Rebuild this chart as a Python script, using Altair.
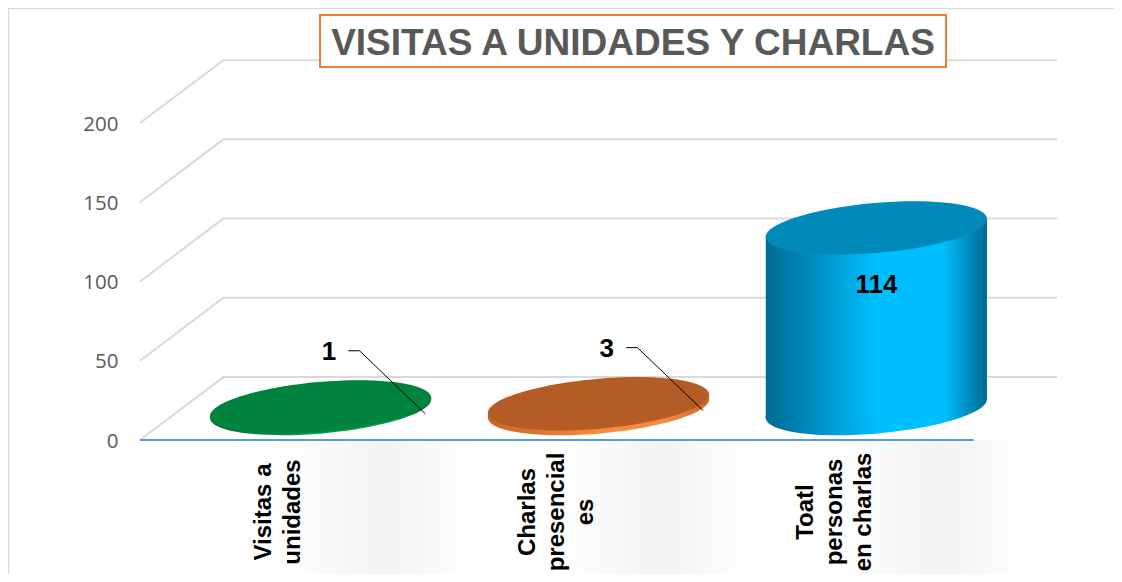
import math
import altair as alt
import pandas as pd

# ---------------- data ----------------
categories = ["Visitas a unidades", "Charlas presenciales", "Toatl personas en charlas"]
label_lines = ["Visitas a\nunidades", "Charlas\npresencial\nes", "Toatl\npersonas\nen charlas"]
values = [1, 3, 114]
y_ticks = [0, 50, 100, 150, 200]
title_text = "VISITAS A UNIDADES Y CHARLAS"

top_colors = ["#00843D", "#B45C25", "#0189BA"]
side_dark = ["#006E33", "#C9662A", "#006A92"]
side_light = ["#00A04C", "#F58B3D", "#00BFFF"]
inside_label = [False, False, True]

# ---------------- geometry (3D projection) ----------------
W, H = 917, 400
X_MAX, Y_MAX = 3.3, 252.4
PXX, PXY = W / X_MAX, H / Y_MAX
DX, DY = 0.3, 39.7          # depth of the 3D box in data units
A_PX, B_PX, ANG = 111, 25, 5
th = math.radians(ANG)
half_w_px = math.sqrt(A_PX ** 2 * math.cos(th) ** 2 + B_PX ** 2 * math.sin(th) ** 2)
tilt_px = math.sin(th) * math.cos(th) * (A_PX ** 2 - B_PX ** 2) / half_w_px
HALF_W = half_w_px / PXX
TILT = tilt_px / PXY
ratio = B_PX / A_PX
ELLIPSE = f"M-1,0A1,{ratio:.4f} 0 1,0 1,0A1,{ratio:.4f} 0 1,0 -1,0Z"
SIZE = (2 * A_PX) ** 2
LINE_H = 29

xs = alt.Scale(domain=[0, X_MAX], nice=False, zero=False)
ys = alt.Scale(domain=[0, Y_MAX], nice=False)
yaxis = alt.Axis(values=y_ticks, title=None, domain=False, ticks=False, grid=False,
                 labelPadding=22, labelFontSize=20.5, labelColor="#595959",
                 labelFont="Open Sans", labelOffset=1)


def X(f):
    return alt.X(f"{f}:Q", scale=xs, axis=None)


def Y(f):
    return alt.Y(f"{f}:Q", scale=ys, axis=yaxis)


layers = []

# soft shadows below the floor
for i, v in enumerate(values):
    xc = i + 0.5 + DX / 2
    sh = alt.Gradient(
        gradient="linear", x1=0, x2=1, y1=0, y2=0,
        stops=[alt.GradientStop(offset=0, color="#FFFFFF"),
               alt.GradientStop(offset=0.55, color="#F3F3F3"),
               alt.GradientStop(offset=1, color="#FFFFFF")])
    layers.append(
        alt.Chart(pd.DataFrame({"x": [xc - 0.15], "x2": [xc + 0.55], "y": [0]})).mark_rect(fill=sh).encode(
            x=X("x"), x2="x2:Q", y=Y("y"), y2=alt.value(537))
    )

# back wall gridlines with side diagonals
grid_rows = []
for v in y_ticks:
    grid_rows += [
        {"tick": v, "o": 0, "x": 0, "y": v},
        {"tick": v, "o": 1, "x": DX, "y": v + DY},
        {"tick": v, "o": 2, "x": 3 + DX, "y": v + DY},
    ]
layers.append(
    alt.Chart(pd.DataFrame(grid_rows)).mark_line(color="#D9D9D9", strokeWidth=2).encode(
        x=X("x"), y=Y("y"), detail="tick:N", order="o:Q")
)

# front floor line
layers.append(
    alt.Chart(pd.DataFrame({"x": [0, 3], "y": [0, 0]})).mark_line(color="#5B9BD5", strokeWidth=2).encode(
        x=X("x"), y=Y("y"))
)

# cylinders
for i, v in enumerate(values):
    xc = i + 0.5 + DX / 2
    yb = DY / 2
    yt = v + DY / 2
    grad = alt.Gradient(
        gradient="linear", x1=0, x2=1, y1=0, y2=0,
        stops=[alt.GradientStop(offset=0, color=side_dark[i]),
               alt.GradientStop(offset=0.5, color=side_light[i]),
               alt.GradientStop(offset=0.8, color=side_light[i]),
               alt.GradientStop(offset=1, color=side_dark[i])])
    bottom = pd.DataFrame({"x": [xc], "y": [yb]})
    layers.append(
        alt.Chart(bottom).mark_point(shape=ELLIPSE, size=SIZE, angle=360 - ANG, filled=True,
                                     fill=grad, opacity=1, strokeWidth=0).encode(x=X("x"), y=Y("y"))
    )
    body = pd.DataFrame({"x": [xc - HALF_W, xc + HALF_W],
                         "y": [yt - TILT, yt + TILT],
                         "y2": [yb - TILT, yb + TILT]})
    layers.append(
        alt.Chart(body).mark_area(fill=grad, opacity=1).encode(
            x=X("x"), y=Y("y"), y2=alt.Y2("y2:Q"))
    )
    top = pd.DataFrame({"x": [xc], "y": [yt]})
    layers.append(
        alt.Chart(top).mark_point(shape=ELLIPSE, size=SIZE, angle=360 - ANG, filled=True,
                                  fill=top_colors[i], opacity=1, strokeWidth=0).encode(x=X("x"), y=Y("y"))
    )
    if inside_label[i]:
        layers.append(
            alt.Chart(pd.DataFrame({"x": [xc], "y": [v], "t": [str(v)]})).mark_text(
                font="Liberation Sans", fontWeight="bold", fontSize=26, color="black", dy=26
            ).encode(x=X("x"), y=Y("y"), text="t:N")
        )
    else:
        layers.append(
            alt.Chart(pd.DataFrame({"x": [xc + 0.03], "y": [v + 54.5], "t": [str(v)]})).mark_text(
                font="Liberation Sans", fontWeight="bold", fontSize=26, color="black"
            ).encode(x=X("x"), y=Y("y"), text="t:N")
        )
        leader = pd.DataFrame({"x": [xc + 0.10, xc + 0.14, xc + 0.377],
                               "y": [v + 55.3, v + 55.3, v + 15.5],
                               "o": [0, 1, 2]})
        layers.append(
            alt.Chart(leader).mark_line(color="black", strokeWidth=1).encode(
                x=X("x"), y=Y("y"), order="o:Q")
        )

# category labels (rotated, lines centred on the category)
lab = pd.DataFrame({
    "x": [i + 0.5 - (t.count("\n") * LINE_H / 2) / PXX for i, t in enumerate(label_lines)],
    "t": label_lines})
layers.append(
    alt.Chart(lab).mark_text(font="Liberation Sans", fontWeight="bold", fontSize=24, color="black",
                             angle=270, align="center", baseline="middle", lineBreak="\n",
                             lineHeight=LINE_H).encode(
        x=X("x"), y=alt.value(472), text="t:N")
)

one = pd.DataFrame({"a": [0]})
# title box and title
layers.append(
    alt.Chart(one).mark_rect(fill="white", stroke="#ED7D31", strokeWidth=2).encode(
        x=alt.value(180), x2=alt.value(806), y=alt.value(-25), y2=alt.value(27))
)
layers.append(
    alt.Chart(one).mark_text(text=title_text, font="Liberation Sans", fontWeight="bold", fontSize=37,
                             color="#595959", align="center", baseline="alphabetic").encode(
        x=alt.value(493), y=alt.value(15))
)
# outer chart border
layers.append(
    alt.Chart(one).mark_rect(fill=None, stroke="#D9D9D9", strokeWidth=1.5).encode(
        x=alt.value(-131.5), x2=alt.value(1000), y=alt.value(-31.5), y2=alt.value(600))
)

chart = alt.layer(*layers).properties(
    width=W, height=H,
    autosize=alt.AutoSizeParams(type="none"),
    padding={"left": 132, "top": 32, "right": 57, "bottom": 134},
    background="white",
).configure_view(stroke=None)

chart.save("out.html", embed_options={"renderer": "svg", "actions": False})
